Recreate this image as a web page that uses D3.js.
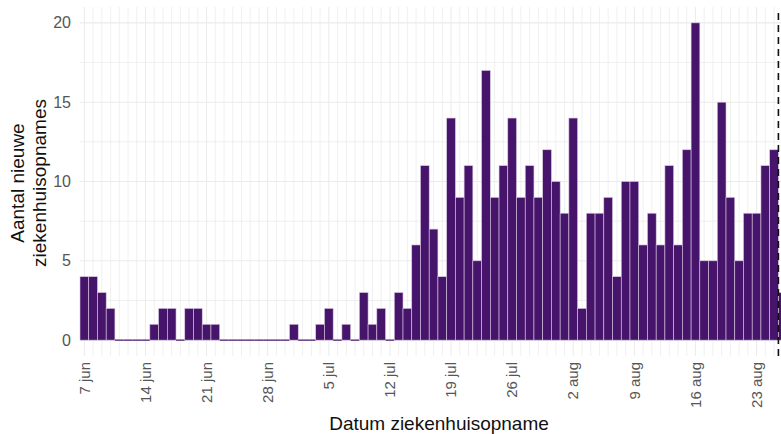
<!DOCTYPE html>
<html>
<head>
<meta charset="utf-8">
<title>Nieuwe ziekenhuisopnames</title>
<script src="https://d3js.org/d3.v7.min.js"></script>
<style>
  body { margin: 0; padding: 0; background: #fff; }
  #chart { margin: 0; padding: 0; }
  text { font-family: "Liberation Sans", Arial, sans-serif; }
</style>
</head>
<body>
<div id="chart"></div>
<script>
// daily counts, 7 jun .. 26 aug (2020)
var startDate = "2020-06-07";
var counts = [
  4, 4, 3, 2, 0, 0, 0, 0, 1, 2, 2, 0, 2, 2, 1, 1,   // 7 jun - 22 jun
  0, 0, 0, 0, 0, 0, 0, 0, 1, 0, 0, 1, 2, 0, 1, 0,   // 23 jun - 8 jul
  3, 1, 2, 0, 3, 2, 6, 11, 7, 4, 14, 9, 11, 5, 17,  // 9 jul - 23 jul
  9, 11, 14, 9, 11, 9, 12, 10, 8, 14, 2, 8, 8, 9,   // 24 jul - 6 aug
  4, 10, 10, 6, 8, 6, 11, 6, 12, 20, 5, 5, 15, 9,   // 7 aug - 20 aug
  5, 8, 8, 11, 12, 3                                // 21 aug - 26 aug
];
var tickDates = ["2020-06-07", "2020-06-14", "2020-06-21", "2020-06-28", "2020-07-05",
  "2020-07-12", "2020-07-19", "2020-07-26", "2020-08-02", "2020-08-09",
  "2020-08-16", "2020-08-23"];
var yTicks = [0, 5, 10, 15, 20];
var yMinor = [2.5, 7.5, 12.5, 17.5];
var cutoffDate = "2020-08-25";   // dashed line after this day
var monthNames = ["jan", "feb", "mrt", "apr", "mei", "jun", "jul", "aug", "sep", "okt", "nov", "dec"];

function drawChart() {
  var W = 781, H = 434;
  var dayPx = 8.73;
  var left = 80, top = 7, bottom = 356;
  var parse = d3.utcParse("%Y-%m-%d");
  var DAY = 864e5;

  var t0 = parse(startDate);
  var data = counts.map(function(v, i) {
    return { date: new Date(t0.getTime() + i * DAY), value: v };
  });

  var x = d3.scaleUtc()
    .domain([new Date(t0.getTime() - DAY / 2), new Date(t0.getTime() + (counts.length - 0.5) * DAY)])
    .range([left, left + counts.length * dayPx]);
  var y = d3.scaleLinear().domain([-1, 21]).range([bottom, top]);

  var svg = d3.select("#chart").append("svg")
    .attr("width", W)
    .attr("height", H);

  // grid
  var allDays = d3.utcDay.range(x.domain()[0], new Date(x.domain()[1].getTime() + DAY));
  svg.append("g").selectAll("line.vg")
    .data(allDays.map(function(d) { return d3.utcDay.floor(new Date(d.getTime() + DAY / 2)); }))
    .enter().append("line")
    .attr("x1", function(d) { return x(d); })
    .attr("x2", function(d) { return x(d); })
    .attr("y1", top).attr("y2", bottom)
    .attr("stroke", "#ececec")
    .attr("stroke-width", function(d) {
      return tickDates.indexOf(d3.utcFormat("%Y-%m-%d")(d)) >= 0 ? 1.1 : 0.8;
    });

  svg.append("g").selectAll("line")
    .data(yTicks.concat(yMinor))
    .enter().append("line")
    .attr("x1", left).attr("x2", W)
    .attr("y1", function(d) { return y(d); })
    .attr("y2", function(d) { return y(d); })
    .attr("stroke", "#ebebeb")
    .attr("stroke-width", function(d) { return yTicks.indexOf(d) >= 0 ? 1.1 : 0.8; });

  // bars
  svg.append("g").selectAll("rect")
    .data(data)
    .enter().append("rect")
    .attr("x", function(d) { return x(d.date) - dayPx / 2; })
    .attr("width", dayPx)
    .attr("y", function(d) { return d.value > 0 ? y(d.value) : y(0) - 0.6; })
    .attr("height", function(d) { return d.value > 0 ? y(0) - y(d.value) : 1.2; })
    .attr("fill", "#47146b")
    .attr("stroke", function(d) { return d.value > 0 ? "#d8c8e2" : "none"; })
    .attr("stroke-width", 0.6);

  // cutoff line
  var cx = x(new Date(parse(cutoffDate).getTime() + DAY / 2));
  svg.append("line")
    .attr("x1", cx).attr("x2", cx)
    .attr("y1", top + 6).attr("y2", bottom + 4)
    .attr("stroke", "#111")
    .attr("stroke-width", 1.6)
    .attr("stroke-dasharray", "7,5");

  // y axis labels
  svg.append("g").selectAll("text")
    .data(yTicks)
    .enter().append("text")
    .attr("x", 71)
    .attr("y", function(d) { return y(d); })
    .attr("dy", "0.35em")
    .attr("text-anchor", "end")
    .attr("fill", "#555")
    .style("font-size", "16px")
    .text(function(d) { return d; });

  // x axis labels
  svg.append("g").selectAll("text")
    .data(tickDates.map(parse))
    .enter().append("text")
    .attr("transform", function(d) { return "translate(" + x(d) + ",362) rotate(-90)"; })
    .attr("dy", "0.35em")
    .attr("text-anchor", "end")
    .attr("fill", "#555")
    .style("font-size", "15px")
    .text(function(d) { return d.getUTCDate() + " " + monthNames[d.getUTCMonth()]; });

  // axis titles
  svg.append("text")
    .attr("x", 439)
    .attr("y", 430)
    .attr("text-anchor", "middle")
    .attr("fill", "#111")
    .style("font-size", "19px")
    .text("Datum ziekenhuisopname");

  var yt = svg.append("text")
    .attr("transform", "translate(0,183) rotate(-90)")
    .attr("text-anchor", "middle")
    .attr("fill", "#111")
    .style("font-size", "19px");
  yt.append("tspan").attr("x", 0).attr("y", 24).text("Aantal nieuwe");
  yt.append("tspan").attr("x", 0).attr("y", 46).text("ziekenhuisopnames");
}

drawChart();
</script>
</body>
</html>
